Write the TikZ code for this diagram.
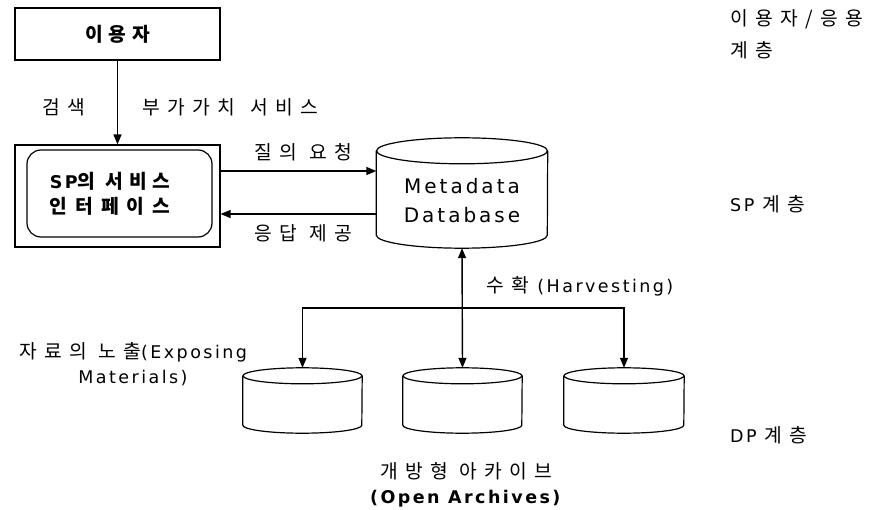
\documentclass[tikz,border=0pt]{standalone}
\usepackage{fontspec}
\setmainfont{DejaVu Sans}[LetterSpace=14]
\newfontfamily\kr{Noto Sans CJK KR}[Scale=1.1,LetterSpace=38]
\usetikzlibrary{arrows.meta,calc}

% outline of a database drum around a named rectangle node
\newcommand\drum[3]{% node name, x radius, y radius of the caps
  \draw[drumline] ([yshift=-#3]#1.north west) -- ([yshift=#3]#1.south west)
    arc[start angle=180,end angle=360,x radius=#2,y radius=#3]
    -- ([yshift=-#3]#1.north east);
  \draw[drumline] ([yshift=-#3]#1.north) ellipse[x radius=#2,y radius=#3];
}

\begin{document}
\begin{tikzpicture}[x=1pt,y=-1pt,
  box/.style={draw,line width=1.2pt,inner sep=0pt},
  drumbody/.style={inner sep=0pt},
  drumline/.style={line width=1.2pt},
  lbl/.style={inner sep=0pt,font=\fontsize{17.5}{25}\selectfont},
  arr/.style={line width=1.4pt,-{Triangle[length=10pt,width=8pt]}},
  darr/.style={line width=1.4pt,{Triangle[length=10pt,width=8pt]}-{Triangle[length=10pt,width=8pt]}}]
\useasboundingbox (0,0) rectangle (870,510);

% user layer
\node[box,minimum width=205pt,minimum height=52pt,
      font=\fontsize{17.5}{20}\selectfont\kr\bfseries\addfontfeatures{LetterSpace=30}]
  (user) at (117.5,34) {이용자};

% service provider interface
\node[box,minimum width=205pt,minimum height=102pt] (sp) at (117.5,196) {};
\node[draw,line width=1.2pt,rounded corners=14pt,minimum width=185pt,minimum height=87pt]
  (spin) at (119.5,193.5) {};
\node[lbl,align=center,font=\fontsize{17.5}{25}\selectfont\bfseries] (sptext) at (110,194)
  {SP{\kr\addfontfeatures{LetterSpace=30}의 서비스}\\{\kr\addfontfeatures{LetterSpace=42}인터페이스}};

% metadata database
\node[drumbody,minimum width=171pt,minimum height=110pt] (meta) at (462,193) {};
\drum{meta}{85.5pt}{13pt}
\node[lbl,align=center,font=\fontsize{20}{29}\selectfont\addfontfeatures{LetterSpace=15}]
  (metatext) at (462,201) {Metadata\\Database};

% open archives
\node[drumbody,minimum width=119pt,minimum height=65pt] (arleft) at (302.5,400.5) {};
\node[drumbody,minimum width=119pt,minimum height=65pt] (armid) at (462.5,400.5) {};
\node[drumbody,minimum width=120pt,minimum height=65pt] (arright) at (624,400.5) {};
\drum{arleft}{59.5pt}{8pt}
\drum{armid}{59.5pt}{8pt}
\drum{arright}{60pt}{8pt}

% connectors
\draw[arr] (user) -- (sp);
\draw[arr] ([yshift=25pt]sp.east) -- ([yshift=25pt]sp.east -| meta.west);
\draw[arr] ([yshift=-18pt]sp.east -| meta.west) -- ([yshift=-18pt]sp.east);
\draw[darr] (meta.south) -- (armid.north);
\coordinate (fork) at (462.5,308);
\draw[arr] (fork) -| (arleft.north);
\draw[arr] (fork) -| (arright.north);

% connector labels
\node[lbl] (lsearch) at (63.5,107.5) {\kr 검색};
\node[lbl] (lvalue) at (230.5,107.5) {\kr 부가가치\hspace{4pt} 서비스};
\node[lbl] (lquery) at (303.5,152) {\kr 질의 요청};
\node[lbl] (lanswer) at (303.5,233) {\kr 응답 제공};
\node[lbl] (lharvest) at (580,286) {{\kr 수확} (Harvesting)};
\node[lbl,align=center] (lexpose) at (133,364) {{\kr 자료의 노출}(Exposing\\Materials)};
\node[lbl,align=center] (loa) at (466.5,484.5)
  {{\kr 개방형 아카이브}\\\textbf{(Open Archives)}};

% layer names
\node[lbl,anchor=west] (layuser) at (730,19) {\kr 이용자/응용};
\node[lbl,anchor=west] (layuser2) at (730,50) {\kr 계층};
\node[lbl,anchor=west] (laysp) at (730,204) {SP {\kr 계층}};
\node[lbl,anchor=west] (laydp) at (730,435) {DP {\kr 계층}};
\end{tikzpicture}
\end{document}
